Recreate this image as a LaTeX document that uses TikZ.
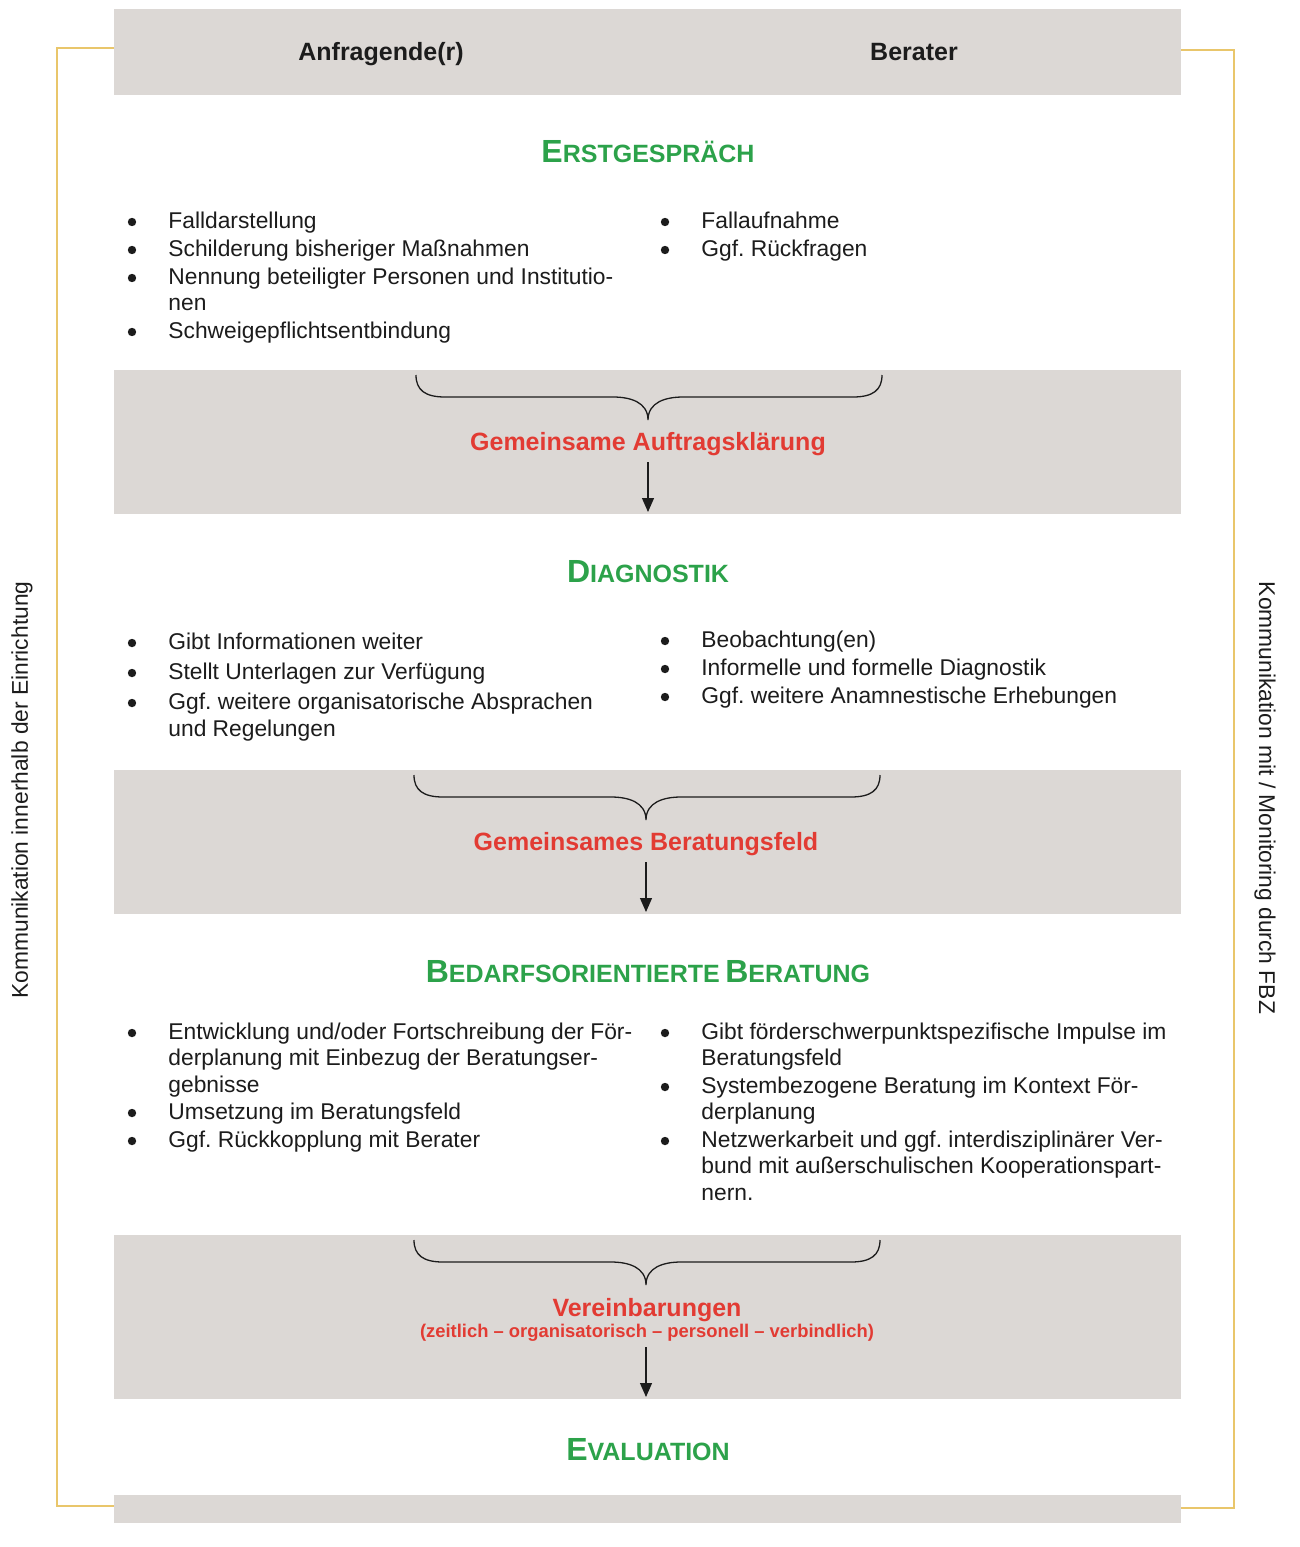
\documentclass[tikz,border=0pt]{standalone}
\usepackage{fontspec}
\setmainfont{Liberation Sans}
\usetikzlibrary{arrows.meta}
\frenchspacing
\definecolor{bandgray}{HTML}{DCD8D5}
\definecolor{goldline}{HTML}{E9C66B}
\definecolor{titlegreen}{HTML}{2CA24A}
\definecolor{labelred}{HTML}{E23B33}
\definecolor{bodytext}{HTML}{1C1C1C}
\newcommand{\BigC}[1]{{\fontsize{16}{18}\selectfont #1}}
\newcommand{\SmC}[1]{{\fontsize{12.5}{15}\selectfont #1}}
\newcommand{\tln}[4]{\node[itxt] (#1) at (#2,{#3+1}) {#4};}
\newcommand{\tbl}[3]{\node[bul] (#1) at (#2,{#3-5}) {};}
\newcommand{\cbrace}[4]{%
\draw[brc] (#1,#3) .. controls (#1,{#3+15}) and ({#1+9},{#3+22}) .. ({#1+29},{#3+22})
 -- ({#4-35},{#3+22}) .. controls ({#4-18},{#3+22}) and (#4,{#3+27}) .. (#4,{#3+45})
 .. controls (#4,{#3+27}) and ({#4+18},{#3+22}) .. ({#4+35},{#3+22})
 -- ({#2-29},{#3+22}) .. controls ({#2-9},{#3+22}) and (#2,{#3+15}) .. (#2,#3);}
\tikzset{
 band/.style={fill=bandgray},
 frame/.style={draw=goldline, line width=1pt},
 hdr/.style={text=bodytext, font=\fontsize{12.5}{15}\selectfont\bfseries, anchor=base, inner sep=0},
 ttl/.style={text=titlegreen, font=\bfseries, anchor=base, inner sep=0},
 lbl/.style={text=labelred, font=\fontsize{12.5}{15}\selectfont\bfseries, anchor=base, inner sep=0},
 sublbl/.style={text=labelred, font=\fontsize{9.2}{11}\selectfont\bfseries, anchor=base, inner sep=0},
 itxt/.style={text=bodytext, font=\fontsize{11.4}{13.5}\selectfont, anchor=base west, inner sep=0},
 bul/.style={circle, fill=bodytext, inner sep=0, minimum size=4.2pt},
 brc/.style={line width=0.65pt, draw=bodytext},
 arr/.style={line width=0.6pt, draw=bodytext, -{Triangle[length=7pt,width=6pt]}},
 side/.style={text=bodytext, font=\fontsize{11.4}{13.5}\selectfont, inner sep=0}
}
\begin{document}
\begin{tikzpicture}[x=0.5pt,y=-0.5pt]
\useasboundingbox (0,0) rectangle (1300,1547);
\fill[white] (0,0) rectangle (1300,1547);
% bands
\fill[band] (114,9) rectangle (1181,95);
\fill[band] (114,370) rectangle (1181,514);
\fill[band] (114,770) rectangle (1181,914);
\fill[band] (114,1235) rectangle (1181,1399);
\fill[band] (114,1495) rectangle (1181,1523);
% frame
\draw[frame] (114,48) -- (57,48) -- (57,1506) -- (114,1506);
\draw[frame] (1181,50) -- (1234,50) -- (1234,1508) -- (1181,1508);
% side texts
\node[side, rotate=90] (sideL) at (22,790) {Kommunikation innerhalb der Einrichtung};
\node[side, rotate=-90] (sideR) at (1265,798) {Kommunikation mit / Monitoring durch FBZ};
% header
\node[hdr] (hA) at (381,61) {Anfragende(r)};
\node[hdr] (hB) at (914,61) {Berater};
% Erstgespraech
\node[ttl] (t1) at (648,162) {\BigC{E}\SmC{RSTGESPRÄCH}};
\tbl{e1b}{132}{227}\tln{e1}{168}{227}{Falldarstellung}
\tbl{e2b}{132}{255}\tln{e2}{168}{255}{Schilderung bisheriger Maßnahmen}
\tbl{e3b}{132}{283}\tln{e3}{168}{283}{Nennung beteiligter Personen und Institutio-}
\tln{e3c}{168}{309}{nen}
\tbl{e4b}{132}{337}\tln{e4}{168}{337}{Schweigepflichtsentbindung}
\tbl{f1b}{665}{227}\tln{f1}{701}{227}{Fallaufnahme}
\tbl{f2b}{665}{255}\tln{f2}{701}{255}{Ggf. Rückfragen}
\cbrace{416}{882}{375}{648}
\node[lbl] (l1) at (648,450) {Gemeinsame Auftragsklärung};
\coordinate (a1s) at (648,462);
\coordinate (a1e) at (648,512);
\draw[arr] (a1s) -- (a1e);
% Diagnostik
\node[ttl] (t2) at (648,582) {\BigC{D}\SmC{IAGNOSTIK}};
\tbl{d1b}{132}{648}\tln{d1}{168}{648}{Gibt Informationen weiter}
\tbl{d2b}{132}{678}\tln{d2}{168}{678}{Stellt Unterlagen zur Verfügung}
\tbl{d3b}{132}{708}\tln{d3}{168}{708}{Ggf. weitere organisatorische Absprachen}
\tln{d3c}{168}{735}{und Regelungen}
\tbl{g1b}{665}{646}\tln{g1}{701}{646}{Beobachtung(en)}
\tbl{g2b}{665}{674}\tln{g2}{701}{674}{Informelle und formelle Diagnostik}
\tbl{g3b}{665}{702}\tln{g3}{701}{702}{Ggf. weitere Anamnestische Erhebungen}
\cbrace{414}{880}{775}{646}
\node[lbl] (l2) at (646,850) {Gemeinsames Beratungsfeld};
\coordinate (a2s) at (646,862);
\coordinate (a2e) at (646,912);
\draw[arr] (a2s) -- (a2e);
% Beratung
\node[ttl] (t3) at (648,982) {\BigC{B}\SmC{EDARFSORIENTIERTE} \BigC{B}\SmC{ERATUNG}};
\tbl{b1b}{132}{1038}\tln{b1}{168}{1038}{Entwicklung und/oder Fortschreibung der För-}
\tln{b1c}{168}{1064}{derplanung mit Einbezug der Beratungser-}
\tln{b1d}{168}{1091}{gebnisse}
\tbl{b2b}{132}{1118}\tln{b2}{168}{1118}{Umsetzung im Beratungsfeld}
\tbl{b3b}{132}{1146}\tln{b3}{168}{1146}{Ggf. Rückkopplung mit Berater}
\tbl{c1b}{665}{1038}\tln{c1}{701}{1038}{Gibt förderschwerpunktspezifische Impulse im}
\tln{c1c}{701}{1064}{Beratungsfeld}
\tbl{c2b}{665}{1092}\tln{c2}{701}{1092}{Systembezogene Beratung im Kontext För-}
\tln{c2c}{701}{1118}{derplanung}
\tbl{c3b}{665}{1146}\tln{c3}{701}{1146}{Netzwerkarbeit und ggf. interdisziplinärer Ver-}
\tln{c3c}{701}{1172}{bund mit außerschulischen Kooperationspart-}
\tln{c3d}{701}{1199}{nern.}
\cbrace{414}{880}{1240}{646}
\node[lbl] (l3) at (647,1316) {Vereinbarungen};
\node[sublbl] (l3s) at (647,1337) {(zeitlich – organisatorisch – personell – verbindlich)};
\coordinate (a3s) at (646,1347);
\coordinate (a3e) at (646,1397);
\draw[arr] (a3s) -- (a3e);
% Evaluation
\node[ttl] (t4) at (648,1460) {\BigC{E}\SmC{VALUATION}};
\end{tikzpicture}
\end{document}
